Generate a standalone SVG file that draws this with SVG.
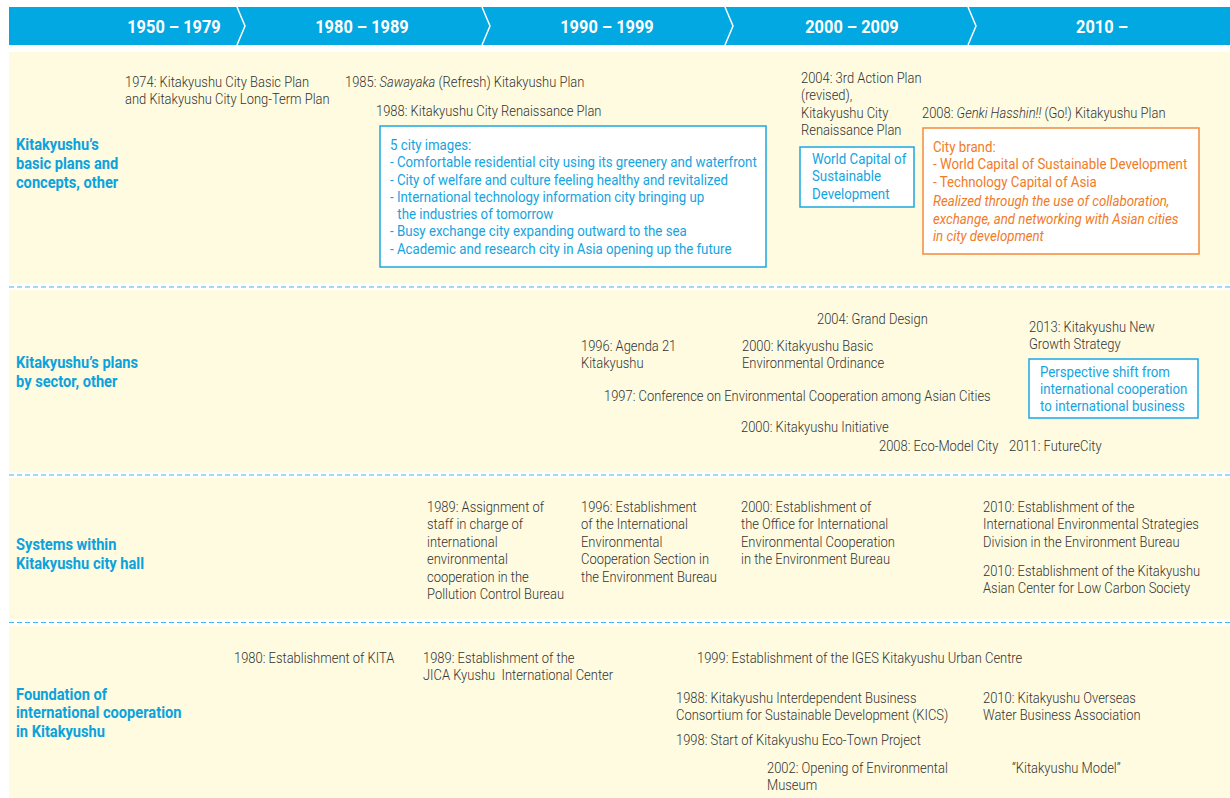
<svg xmlns="http://www.w3.org/2000/svg" width="1230" height="798" viewBox="0 0 1230 798">
<style>
.t{font-family:Roboto,"Liberation Sans",sans-serif;font-weight:300;font-size:14px;fill:#333333}
.i{font-style:italic}
.h{font-family:Roboto,"Liberation Sans",sans-serif;font-weight:700;font-size:18px;fill:#ffffff;text-anchor:middle}
.lab{font-family:Roboto,"Liberation Sans",sans-serif;font-weight:700;font-size:16px;fill:#0ba2dd}
.bt{font-family:Roboto,"Liberation Sans",sans-serif;font-weight:400;font-size:14.5px;fill:#14a4df}
.ot{font-family:Roboto,"Liberation Sans",sans-serif;font-weight:400;font-size:14.5px;fill:#f07b28}
.bbox{fill:#ffffff;stroke:#1ba8e2;stroke-width:1.5}
.obox{fill:#ffffff;stroke:#f28a3c;stroke-width:1.5}
.dash{stroke:#45b6e8;stroke-width:1.2;stroke-dasharray:5,3;fill:none}
.chev{stroke:#ffffff;stroke-width:1.5;fill:none}
</style>
<rect width="1230" height="798" fill="#ffffff"/>
<g id="background">
<rect x="9" y="52" width="1221" height="232" fill="#fefbe0"/>
<rect x="9" y="290" width="1221" height="182" fill="#fefbe0"/>
<rect x="9" y="478" width="1221" height="141" fill="#fefbe0"/>
<rect x="9" y="626" width="1221" height="172" fill="#fefbe0"/>
<line class="dash" x1="9" y1="287" x2="1230" y2="287"/>
<line class="dash" x1="9" y1="475" x2="1230" y2="475"/>
<line class="dash" x1="9" y1="622.5" x2="1230" y2="622.5"/>
</g>
<g id="header">
<rect x="9" y="7" width="1221" height="38" fill="#02a8e1"/>
<polyline class="chev" points="237,7 245,26 237,45"/>
<polyline class="chev" points="482,7 490,26 482,45"/>
<polyline class="chev" points="725,7 733,26 725,45"/>
<polyline class="chev" points="968,7 976,26 968,45"/>
<text class="h" transform="translate(174,33) scale(0.91,1)">1950 – 1979</text>
<text class="h" transform="translate(362,33) scale(0.91,1)">1980 – 1989</text>
<text class="h" transform="translate(607,33) scale(0.91,1)">1990 – 1999</text>
<text class="h" transform="translate(852,33) scale(0.91,1)">2000 – 2009</text>
<text class="h" transform="translate(1102,33) scale(0.91,1)">2010 –</text>
</g>
<g id="connectors"></g>
<g id="row-labels">
<text class="lab" transform="translate(16,150) scale(0.915,1)"><tspan x="0">Kitakyushu’s</tspan><tspan x="0" dy="19">basic plans and</tspan><tspan x="0" dy="19">concepts, other</tspan></text>
<text class="lab" transform="translate(16,368) scale(0.915,1)"><tspan x="0">Kitakyushu’s plans</tspan><tspan x="0" dy="19">by sector, other</tspan></text>
<text class="lab" transform="translate(16,550) scale(0.915,1)"><tspan x="0">Systems within</tspan><tspan x="0" dy="19">Kitakyushu city hall</tspan></text>
<text class="lab" transform="translate(16,700) scale(0.915,1)"><tspan x="0">Foundation of</tspan><tspan x="0" dy="18.5">international cooperation</tspan><tspan x="0" dy="18.5">in Kitakyushu</tspan></text>
</g>
<g id="n1974"><text class="t" transform="translate(125,87) scale(0.925,1)"><tspan x="0">1974: Kitakyushu City Basic Plan</tspan><tspan x="0" dy="17.4">and Kitakyushu City Long-Term Plan</tspan></text></g>
<g id="n1985"><text class="t" transform="translate(345,87) scale(0.925,1)">1985: <tspan class="i">Sawayaka</tspan> (Refresh) Kitakyushu Plan</text></g>
<g id="n1988"><text class="t" transform="translate(376,116) scale(0.925,1)">1988: Kitakyushu City Renaissance Plan</text></g>
<g id="box-5images">
<rect class="bbox" x="380" y="126" width="386" height="141"/>
<text class="bt" transform="translate(390,150) scale(0.915,1)"><tspan x="0">5 city images:</tspan><tspan x="0" dy="17.3">- Comfortable residential city using its greenery and waterfront</tspan><tspan x="0" dy="17.3">- City of welfare and culture feeling healthy and revitalized</tspan><tspan x="0" dy="17.3">- International technology information city bringing up</tspan><tspan x="8" dy="17.3">the industries of tomorrow</tspan><tspan x="0" dy="17.3">- Busy exchange city expanding outward to the sea</tspan><tspan x="0" dy="17.3">- Academic and research city in Asia opening up the future</tspan></text>
</g>
<g id="n2004a"><text class="t" transform="translate(801,83) scale(0.925,1)"><tspan x="0">2004: 3rd Action Plan</tspan><tspan x="0" dy="17.4">(revised),</tspan><tspan x="0" dy="17.4">Kitakyushu City</tspan><tspan x="0" dy="17.4">Renaissance Plan</tspan></text></g>
<g id="box-worldcapital">
<rect class="bbox" x="800" y="147" width="114" height="60"/>
<text class="bt" transform="translate(812,164) scale(0.915,1)"><tspan x="0">World Capital of</tspan><tspan x="0" dy="17.4">Sustainable</tspan><tspan x="0" dy="17.4">Development</tspan></text>
</g>
<g id="n2008a"><text class="t" transform="translate(922,118) scale(0.925,1)">2008: <tspan class="i">Genki Hasshin!!</tspan> (Go!) Kitakyushu Plan</text></g>
<g id="box-citybrand">
<rect class="obox" x="923" y="128" width="276" height="126"/>
<text class="ot" transform="translate(933,152) scale(0.915,1)"><tspan x="0">City brand:</tspan><tspan x="0" dy="17.4">- World Capital of Sustainable Development</tspan><tspan x="0" dy="17.4">- Technology Capital of Asia</tspan><tspan x="0" dy="19.6" class="i">Realized through the use of collaboration,</tspan><tspan x="0" dy="17.2" class="i">exchange, and networking with Asian cities</tspan><tspan x="0" dy="17.2" class="i">in city development</tspan></text>
</g>
<g id="n2004b"><text class="t" transform="translate(817,324) scale(0.925,1)">2004: Grand Design</text></g>
<g id="n2013"><text class="t" transform="translate(1029,332) scale(0.925,1)"><tspan x="0">2013: Kitakyushu New</tspan><tspan x="0" dy="17.4">Growth Strategy</tspan></text></g>
<g id="n1996a"><text class="t" transform="translate(581,351) scale(0.925,1)"><tspan x="0">1996: Agenda 21</tspan><tspan x="0" dy="17.4">Kitakyushu</tspan></text></g>
<g id="n2000a"><text class="t" transform="translate(742,351) scale(0.925,1)"><tspan x="0">2000: Kitakyushu Basic</tspan><tspan x="0" dy="17.4">Environmental Ordinance</tspan></text></g>
<g id="n1997"><text class="t" transform="translate(604,401) scale(0.925,1)">1997: Conference on Environmental Cooperation among Asian Cities</text></g>
<g id="n2000b"><text class="t" transform="translate(741,432) scale(0.925,1)">2000: Kitakyushu Initiative</text></g>
<g id="n2008b"><text class="t" transform="translate(879,451) scale(0.925,1)">2008: Eco-Model City</text></g>
<g id="n2011"><text class="t" transform="translate(1009,451) scale(0.925,1)">2011: FutureCity</text></g>
<g id="box-perspective">
<rect class="bbox" x="1029" y="359" width="169" height="59"/>
<text class="bt" transform="translate(1040,377) scale(0.915,1)"><tspan x="0">Perspective shift from</tspan><tspan x="0" dy="17">international cooperation</tspan><tspan x="0" dy="17">to international business</tspan></text>
</g>
<g id="n1989a"><text class="t" transform="translate(427,512) scale(0.925,1)"><tspan x="0">1989: Assignment of</tspan><tspan x="0" dy="17.4">staff in charge of</tspan><tspan x="0" dy="17.4">international</tspan><tspan x="0" dy="17.4">environmental</tspan><tspan x="0" dy="17.4">cooperation in the</tspan><tspan x="0" dy="17.4">Pollution Control Bureau</tspan></text></g>
<g id="n1996b"><text class="t" transform="translate(581,512) scale(0.925,1)"><tspan x="0">1996: Establishment</tspan><tspan x="0" dy="17.4">of the International</tspan><tspan x="0" dy="17.4">Environmental</tspan><tspan x="0" dy="17.4">Cooperation Section in</tspan><tspan x="0" dy="17.4">the Environment Bureau</tspan></text></g>
<g id="n2000c"><text class="t" transform="translate(741,512) scale(0.925,1)"><tspan x="0">2000: Establishment of</tspan><tspan x="0" dy="17.4">the Office for International</tspan><tspan x="0" dy="17.4">Environmental Cooperation</tspan><tspan x="0" dy="17.4">in the Environment Bureau</tspan></text></g>
<g id="n2010a"><text class="t" transform="translate(983,512) scale(0.925,1)"><tspan x="0">2010: Establishment of the</tspan><tspan x="0" dy="17.4">International Environmental Strategies</tspan><tspan x="0" dy="17.4">Division in the Environment Bureau</tspan></text></g>
<g id="n2010b"><text class="t" transform="translate(983,576) scale(0.925,1)"><tspan x="0">2010: Establishment of the Kitakyushu</tspan><tspan x="0" dy="17.4">Asian Center for Low Carbon Society</tspan></text></g>
<g id="n1980"><text class="t" transform="translate(234,663) scale(0.925,1)">1980: Establishment of KITA</text></g>
<g id="n1989b"><text class="t" transform="translate(423,663) scale(0.925,1)"><tspan x="0">1989: Establishment of the</tspan><tspan x="0" dy="17.4">JICA Kyushu&#160; International Center</tspan></text></g>
<g id="n1999"><text class="t" transform="translate(697,663) scale(0.925,1)">1999: Establishment of the IGES Kitakyushu Urban Centre</text></g>
<g id="n1988b"><text class="t" transform="translate(676,703) scale(0.925,1)"><tspan x="0">1988: Kitakyushu Interdependent Business</tspan><tspan x="0" dy="17.4">Consortium for Sustainable Development (KICS)</tspan></text></g>
<g id="n2010c"><text class="t" transform="translate(983,703) scale(0.925,1)"><tspan x="0">2010: Kitakyushu Overseas</tspan><tspan x="0" dy="17.4">Water Business Association</tspan></text></g>
<g id="n1998"><text class="t" transform="translate(676,745) scale(0.925,1)">1998: Start of Kitakyushu Eco-Town Project</text></g>
<g id="n2002"><text class="t" transform="translate(767,773) scale(0.925,1)"><tspan x="0">2002: Opening of Environmental</tspan><tspan x="0" dy="17.4">Museum</tspan></text></g>
<g id="nmodel"><text class="t" transform="translate(1012,773) scale(0.925,1)">“Kitakyushu Model”</text></g>
</svg>
